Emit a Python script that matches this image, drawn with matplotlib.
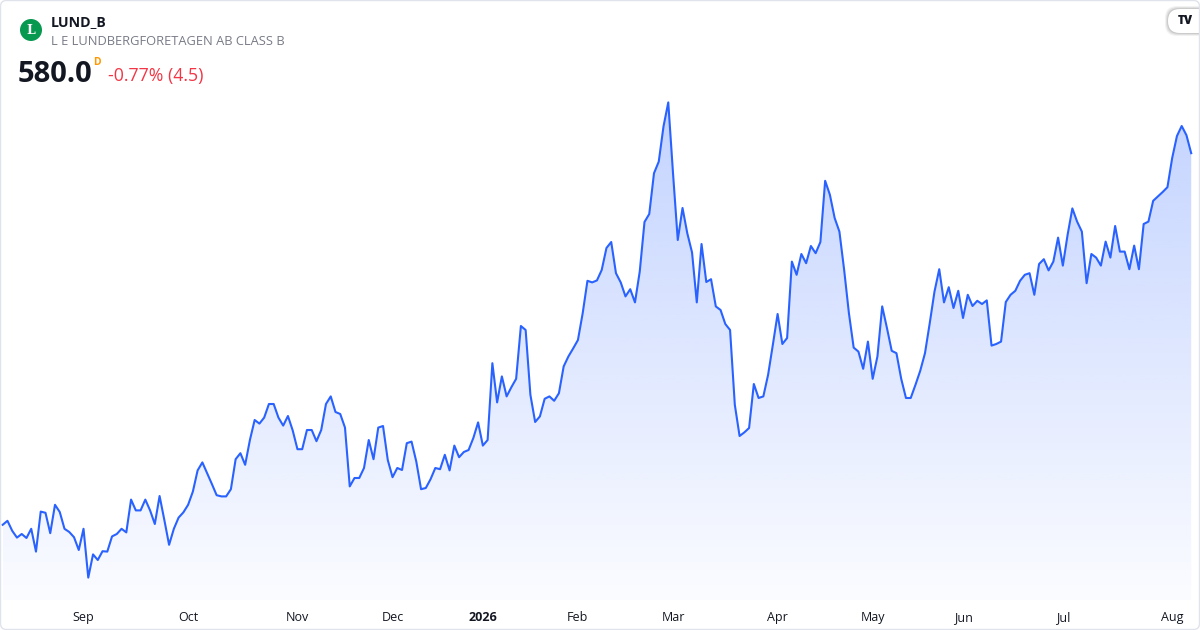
import numpy as np
import matplotlib.pyplot as plt
from matplotlib.patches import FancyBboxPatch, Circle, Polygon
from matplotlib.colors import LinearSegmentedColormap
from matplotlib.transforms import IdentityTransform

# =========================
# DATA
# =========================
ticker = "LUND_B"
company = "L E LUNDBERGFORETAGEN AB CLASS B"
last_price = "580.0"
change_text = "-0.77% (4.5)"

# daily closes (SEK), one per trading day
closes = [
    487.1, 488.1, 485.6, 483.9, 484.8, 483.8, 486.1, 480.4, 490.4, 490.1,
    485.0, 492.1, 490.3, 486.1, 485.3, 484.0, 480.8, 486.1, 473.9, 479.7,
    478.3, 480.5, 480.4, 484.2, 484.8, 486.1, 485.2, 493.4, 490.7, 490.7,
    493.4, 490.7, 487.3, 494.3, 488.3, 482.1, 486.1, 488.9, 490.2, 492.1,
    495.4, 500.7, 502.7, 500.0, 497.3, 494.5, 494.2, 494.2, 496.0, 503.5,
    505.0, 502.1, 508.3, 513.3, 512.4, 513.9, 517.3, 517.3, 513.9, 511.9,
    514.3, 510.7, 506.0, 506.0, 510.8, 510.8, 508.0, 510.8, 517.3, 519.2,
    515.3, 514.8, 511.4, 496.7, 498.8, 498.8, 501.3, 508.3, 503.5, 511.4,
    511.8, 503.3, 499.0, 501.3, 500.8, 507.5, 507.9, 502.9, 496.0, 496.3,
    498.5, 501.3, 501.0, 504.6, 500.7, 506.9, 504.0, 505.3, 505.8, 508.8,
    512.7, 506.9, 508.3, 527.5, 517.7, 524.2, 519.2, 521.5, 523.6, 536.8,
    535.8, 519.6, 512.8, 514.2, 518.6, 519.2, 518.1, 520.0, 526.7, 529.2,
    531.2, 533.3, 540.0, 548.1, 547.7, 548.2, 550.8, 556.3, 557.8, 550.0,
    547.7, 544.2, 546.0, 542.7, 550.4, 562.8, 564.8, 575.0, 577.9, 586.7,
    592.7, 575.0, 558.3, 566.3, 560.0, 555.2, 542.7, 557.3, 547.8, 548.5,
    541.7, 540.8, 537.3, 535.8, 517.1, 509.3, 510.2, 511.3, 522.3, 518.8,
    519.2, 524.6, 532.1, 539.8, 532.3, 533.8, 552.9, 549.6, 554.8, 552.5,
    556.8, 555.0, 557.8, 573.1, 569.6, 563.8, 560.4, 550.8, 540.0, 531.4,
    530.4, 526.1, 532.9, 523.6, 529.2, 541.7, 536.3, 530.6, 530.0, 523.6,
    518.8, 518.8, 522.1, 525.6, 530.0, 537.5, 545.4, 551.0, 542.7, 546.5,
    541.3, 545.6, 538.8, 544.6, 541.8, 543.1, 542.3, 543.2, 531.9, 532.3,
    532.9, 542.8, 544.6, 545.6, 548.1, 549.6, 550.0, 544.6, 552.3, 553.5,
    550.7, 552.9, 558.9, 551.9, 559.6, 566.2, 562.9, 560.4, 547.5, 554.8,
    553.9, 551.9, 557.9, 553.9, 561.8, 555.4, 555.4, 551.0, 556.9, 551.0,
    562.3, 562.9, 568.1, 569.2, 570.3, 571.5, 578.8, 584.3, 586.8, 584.5,
    580.0,
]

month_labels = ["Sep", "Oct", "Nov", "Dec", "2026", "Feb", "Mar",
                "Apr", "May", "Jun", "Jul", "Aug"]
# index of the first trading day of each month in closes
month_starts = [17, 39, 62, 82, 101, 121, 141, 163, 183, 202, 223, 246]

# =========================
# STYLE
# =========================
LINE = "#2962ff"
TEXT = "#131722"
GREY = "#787b86"
RED = "#f23645"
ORANGE = "#ff9800"
FONT = ["Open Sans", "DejaVu Sans"]

W, H = 1200, 630
plt.rcParams["font.family"] = FONT

fig = plt.figure(figsize=(W / 100, H / 100), dpi=100)
fig.patch.set_facecolor("white")

# plot area: whole width, from top down to 600 px
ax = fig.add_axes([0, 30 / H, 1, 600 / H])
ax.set_facecolor("none")

x = np.arange(len(closes))
y = np.array(closes)

x_lo, x_hi = -0.568, 251.85
y_lo, y_hi = 468.3, 618.3

# --- gradient area ---
cmap = LinearSegmentedColormap.from_list(
    "fade", [(41 / 255, 98 / 255, 1, 0.02), (41 / 255, 98 / 255, 1, 0.28)]
)
grad = np.linspace(0, 1, 256).reshape(-1, 1)
im = ax.imshow(grad, extent=[x[0], x[-1], y_lo, y.max()], origin="lower",
               aspect="auto", cmap=cmap, zorder=1, interpolation="bilinear")
verts = [(x[0], y_lo)] + list(zip(x, y)) + [(x[-1], y_lo)]
clip = Polygon(verts, closed=True, facecolor="none", edgecolor="none")
ax.add_patch(clip)
im.set_clip_path(clip)

# --- line ---
ax.plot(x, y, color=LINE, linewidth=1.5, solid_joinstyle="round", zorder=3)

ax.set_xlim(x_lo, x_hi)
ax.set_ylim(y_lo, y_hi)
ax.set_yticks([])
ax.set_xticks(month_starts)
ax.set_xticklabels(month_labels)
ax.tick_params(axis="x", length=0, pad=8, labelsize=9, labelcolor=TEXT)
for lbl in ax.get_xticklabels():
    if lbl.get_text() == "2026":
        lbl.set_fontweight("bold")
for s in ax.spines.values():
    s.set_visible(False)

# =========================
# HEADER
# =========================
px = IdentityTransform()


def fy(py):
    return H - py


fig.add_artist(Circle((31, fy(30)), 11, transform=px, facecolor="#089950",
                      edgecolor="none"))
fig.text(31, fy(30.5), "L", transform=px, ha="center", va="center",
         color="white", fontsize=9, fontweight="bold", family="DejaVu Serif")

fig.text(51, fy(26), ticker, transform=px, fontsize=10.2, fontweight="bold",
         color=TEXT, va="baseline")
fig.text(51, fy(45), company, transform=px, fontsize=9.3, color=GREY,
         va="baseline")
fig.text(18, fy(81.5), last_price, transform=px, fontsize=21,
         fontweight="bold", color=TEXT, va="baseline")
fig.text(93, fy(65), "D", transform=px, fontsize=7.5, fontweight="bold",
         color=ORANGE, va="baseline")
fig.text(108, fy(80.5), change_text, transform=px, fontsize=12.8, color=RED,
         va="baseline")

# TradingView badge (soft shadow + white pill)
for off, a in [(3, 0.05), (2, 0.07), (1, 0.09)]:
    fig.add_artist(FancyBboxPatch((1168 - off, fy(33) - off), 44 + 2 * off,
                                  24 + 2 * off, transform=px,
                                  boxstyle="round,pad=0,rounding_size=12",
                                  facecolor=(0, 0, 0, a), edgecolor="none"))
fig.add_artist(FancyBboxPatch((1168, fy(33)), 44, 24, transform=px,
                              boxstyle="round,pad=0,rounding_size=12",
                              facecolor="white", edgecolor="none"))
fig.text(1185, fy(21), "TV", transform=px, ha="center", va="center",
         fontsize=8.5, fontweight="heavy", color=TEXT)

# outer frame
fig.add_artist(FancyBboxPatch((0.5, 0.5), W - 1, H - 1, transform=px,
                              boxstyle="round,pad=0,rounding_size=6",
                              facecolor="none", edgecolor="#e0e3eb",
                              linewidth=1))

fig.savefig("out.png", dpi=100, facecolor="white")
